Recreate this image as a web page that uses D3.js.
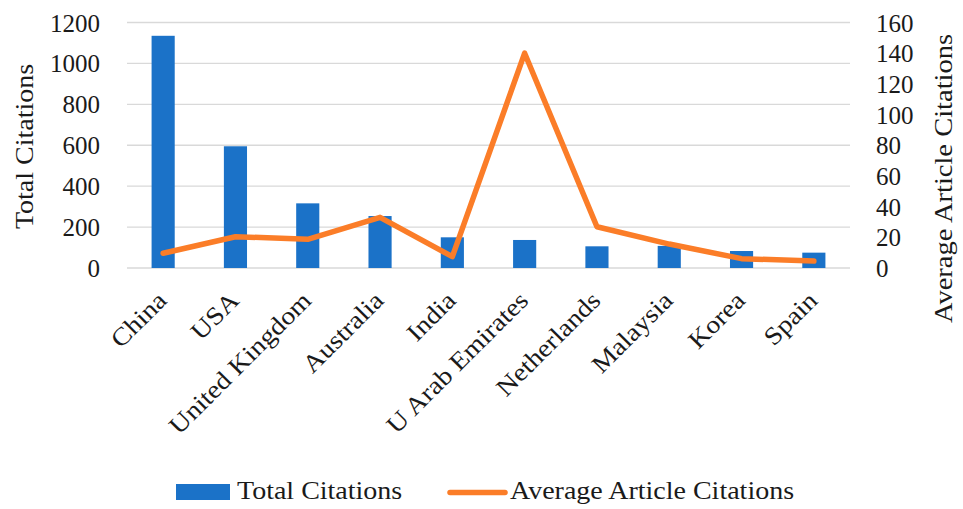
<!DOCTYPE html>
<html>
<head>
<meta charset="utf-8">
<script src="https://cdn.jsdelivr.net/npm/d3@7"></script>
<style>
  html, body { margin: 0; padding: 0; background: #fff; }
  svg { display: block; }
  svg text { font-family: "Liberation Serif", "Times New Roman", serif !important; fill: #1a1a1a; }
</style>
</head>
<body>
<svg id="chart" width="963" height="509"></svg>
<script>
// Top countries by citations
const countries = ["China", "USA", "United Kingdom", "Australia", "India",
  "U Arab Emirates", "Netherlands", "Malaysia", "Korea", "Spain"];
const totalCitations = [1135, 595, 316, 254, 150, 137, 106, 108, 83, 75];
const avgArticleCitations = [9.6, 20.4, 18.7, 33, 7.4, 140, 26.9, 15.6, 6.1, 4.5];
const leftTicks = [0, 200, 400, 600, 800, 1000, 1200];
const rightTicks = [0, 20, 40, 60, 80, 100, 120, 140, 160];
const seriesNames = ["Total Citations", "Average Article Citations"];

const BLUE = "#1b72c8";
const ORANGE = "#fb7d28";
const GRID = "#d9d9d9";
const FONT = 25;
const WIDEN = 1.12; // body text set a little wider than the fallback face

const svg = d3.select("#chart");
const plot = { left: 127, right: 850, top: 22.5, bottom: 268 };

const x = d3.scaleBand()
  .domain(countries)
  .range([plot.left, plot.right])
  .paddingInner(0.68)
  .paddingOuter(0.34);

const yLeft = d3.scaleLinear().domain([0, 1200]).range([plot.bottom, plot.top]);
const yRight = d3.scaleLinear().domain([0, 160]).range([plot.bottom, plot.top]);

function widen(sel, k) {
  sel.each(function () {
    const len = this.getComputedTextLength();
    d3.select(this).attr("textLength", len * k).attr("lengthAdjust", "spacingAndGlyphs");
  });
}

// Gridlines
svg.append("g")
  .selectAll("line")
  .data(leftTicks)
  .join("line")
  .attr("x1", plot.left)
  .attr("x2", plot.right)
  .attr("y1", d => yLeft(d))
  .attr("y2", d => yLeft(d))
  .attr("stroke", GRID)
  .attr("stroke-width", 1.4);

// Left axis labels
const leftAxis = d3.axisLeft(yLeft).tickValues(leftTicks).tickFormat(d3.format("d"))
  .tickSize(0).tickPadding(0);
const gl = svg.append("g").attr("transform", `translate(100,0)`).call(leftAxis)
  .attr("font-family", null).attr("font-size", FONT);
gl.select(".domain").remove();
gl.selectAll("text")
  .attr("fill", "#1a1a1a")
  .attr("dy", "0.34em");

// Right axis labels
const rightAxis = d3.axisRight(yRight).tickValues(rightTicks).tickFormat(d3.format("d"))
  .tickSize(0).tickPadding(0);
const gr = svg.append("g").attr("transform", `translate(876,0)`).call(rightAxis)
  .attr("font-family", null).attr("font-size", FONT);
gr.select(".domain").remove();
gr.selectAll("text")
  .attr("fill", "#1a1a1a")
  .attr("dy", "0.34em");

// Bars
svg.append("g")
  .selectAll("rect")
  .data(countries)
  .join("rect")
  .attr("x", d => x(d))
  .attr("width", x.bandwidth())
  .attr("y", (d, i) => yLeft(totalCitations[i]))
  .attr("height", (d, i) => yLeft(0) - yLeft(totalCitations[i]))
  .attr("fill", BLUE);

// Average citations line
const line = d3.line()
  .x((d, i) => x(countries[i]) + x.bandwidth() / 2)
  .y(d => yRight(d));

svg.append("path")
  .datum(avgArticleCitations)
  .attr("d", line)
  .attr("fill", "none")
  .attr("stroke", ORANGE)
  .attr("stroke-width", 5.5)
  .attr("stroke-linejoin", "round")
  .attr("stroke-linecap", "round");

// Category labels, rotated
const cats = svg.append("g")
  .selectAll("text")
  .data(countries)
  .join("text")
  .attr("transform", d => `translate(${x(d) + x.bandwidth() / 2 + 5},302) rotate(-45)`)
  .attr("text-anchor", "end")
  .attr("font-size", FONT)
  .text(d => d);
widen(cats, WIDEN);

// Axis titles
const tl = svg.append("text")
  .attr("transform", "translate(33,146.5) rotate(-90)")
  .attr("text-anchor", "middle")
  .attr("font-size", FONT)
  .text("Total Citations");
widen(tl, WIDEN);

const tr = svg.append("text")
  .attr("transform", "translate(952,178.5) rotate(-90)")
  .attr("text-anchor", "middle")
  .attr("font-size", FONT)
  .text("Average Article Citations");
widen(tr, 1.14);

// Legend
const legend = svg.append("g");
legend.append("rect")
  .attr("x", 176).attr("y", 484)
  .attr("width", 54).attr("height", 16)
  .attr("fill", BLUE);
const lt1 = legend.append("text")
  .attr("x", 237).attr("y", 499)
  .attr("font-size", FONT)
  .text(seriesNames[0]);
widen(lt1, WIDEN);

legend.append("line")
  .attr("x1", 450).attr("x2", 505)
  .attr("y1", 492.5).attr("y2", 492.5)
  .attr("stroke", ORANGE)
  .attr("stroke-width", 5.5)
  .attr("stroke-linecap", "round");
const lt2 = legend.append("text")
  .attr("x", 510).attr("y", 499)
  .attr("font-size", FONT)
  .text(seriesNames[1]);
widen(lt2, WIDEN);
</script>
</body>
</html>
